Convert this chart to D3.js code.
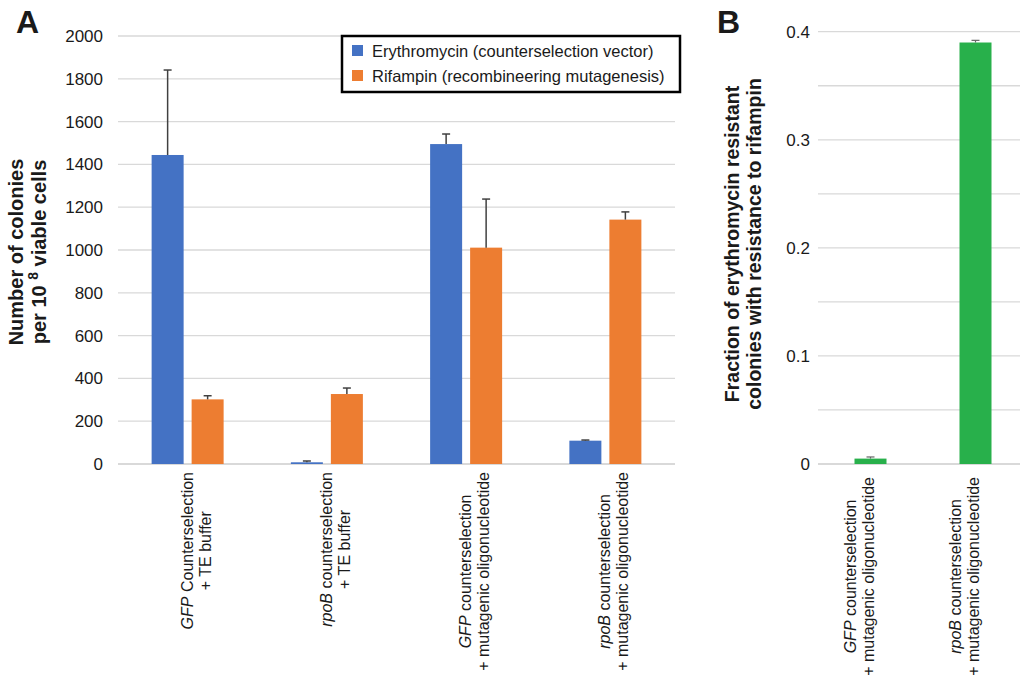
<!DOCTYPE html>
<html>
<head>
<meta charset="utf-8">
<script src="https://cdn.jsdelivr.net/npm/d3@7"></script>
<style>
    body { margin: 0; background: #fff; }
    text { font-family: "Liberation Sans", Arial, sans-serif; fill: #1a1a1a; }
</style>
</head>
<body>
<div id="chart"></div>
<script>
// Données du panneau A
const genesA = ["GFP", "rpoB", "GFP", "rpoB"];
const line1RestA = [" Counterselection", " counterselection", " counterselection", " counterselection"];
const line2A = ["+ TE buffer", "+ TE buffer", "+ mutagenic oligonucleotide", "+ mutagenic oligonucleotide"];
const seriesNames = ["Erythromycin (counterselection vector)", "Rifampin (recombineering mutagenesis)"];
const erythromycin = [1444, 8, 1495, 109];
const erythromycinErr = [397, 6, 47, 3];
const rifampin = [302, 327, 1011, 1142];
const rifampinErr = [17, 28, 227, 36];
const ticksA = [0, 200, 400, 600, 800, 1000, 1200, 1400, 1600, 1800, 2000];

// Données du panneau B
const genesB = ["GFP", "rpoB"];
const line1RestB = [" counterselection", " counterselection"];
const line2B = ["+ mutagenic oligonucleotide", "+ mutagenic oligonucleotide"];
const fraction = [0.005, 0.390];
const fractionErr = [0.0015, 0.002];
const ticksB = [0, 0.1, 0.2, 0.3, 0.4];
const gridB = [0, 0.05, 0.1, 0.15, 0.2, 0.25, 0.3, 0.35, 0.4];

const colors = ["#4472C4", "#ED7D31"];
const green = "#28B04B";
const gridColor = "#d9d9d9";
const errColor = "#404040";

const W = 1020, H = 679;

const svg = d3.select("#chart")
    .append("svg")
    .attr("width", W)
    .attr("height", H);

svg.append("rect").attr("width", W).attr("height", H).attr("fill", "#fff");

// ---------- Panneau A ----------
const A = { left: 118, right: 675, top: 36, bottom: 464 };

const yA = d3.scaleLinear().domain([0, 2000]).range([A.bottom, A.top]);
const x0 = d3.scaleBand().domain(d3.range(4)).range([A.left, A.right]).padding(0);
const x1 = d3.scaleBand()
    .domain([0, 1])
    .range([(x0.bandwidth() - 72) / 2, (x0.bandwidth() + 72) / 2])
    .paddingInner(0.2);

const gA = svg.append("g");

// Quadrillage
gA.selectAll("line.grid")
    .data(ticksA)
    .enter()
    .append("line")
    .attr("x1", A.left)
    .attr("x2", A.right)
    .attr("y1", d => yA(d))
    .attr("y2", d => yA(d))
    .attr("stroke", gridColor)
    .attr("stroke-width", d => d === 0 ? 2 : 1.3);

// Axe Y
const yAxisA = gA.append("g")
    .attr("transform", `translate(${A.left - 15}, 0)`)
    .call(d3.axisLeft(yA).tickValues(ticksA).tickFormat(d3.format("d")).tickSize(0).tickPadding(0));
yAxisA.select(".domain").remove();
yAxisA.selectAll("text")
    .style("font-size", "17px")
    .style("font-family", "Liberation Sans, Arial, sans-serif")
    .attr("fill", "#1a1a1a");

// Barres
const seriesA = [erythromycin, rifampin];
const errA = [erythromycinErr, rifampinErr];
seriesA.forEach((vals, s) => {
    gA.selectAll(`rect.s${s}`)
        .data(vals)
        .enter()
        .append("rect")
        .attr("x", (d, i) => x0(i) + x1(s))
        .attr("y", d => yA(d))
        .attr("width", x1.bandwidth())
        .attr("height", d => A.bottom - yA(d))
        .attr("fill", colors[s]);

    // Barres d'erreur (positives uniquement)
    vals.forEach((d, i) => {
        const cx = x0(i) + x1(s) + x1.bandwidth() / 2;
        const top = yA(d + errA[s][i]);
        gA.append("line")
            .attr("x1", cx).attr("x2", cx)
            .attr("y1", yA(d)).attr("y2", top)
            .attr("stroke", errColor).attr("stroke-width", 1.5);
        gA.append("line")
            .attr("x1", cx - 4).attr("x2", cx + 4)
            .attr("y1", top).attr("y2", top)
            .attr("stroke", errColor).attr("stroke-width", 1.5);
    });
});

// Étiquettes de catégories (pivotées)
function catLabels(g, genes, rest, line2, xCenter, axisY, pad, b1, b2) {
    genes.forEach((gene, i) => {
        const lab = g.append("g");
        const t1 = lab.append("text")
            .attr("text-anchor", "middle")
            .attr("y", b1)
            .style("font-size", "16px");
        t1.append("tspan").attr("font-style", "italic").text(gene);
        t1.append("tspan").text(rest[i]);
        const t2 = lab.append("text")
            .attr("text-anchor", "middle")
            .attr("y", b2)
            .style("font-size", "16px")
            .text(line2[i]);
        const maxLen = Math.max(t1.node().getComputedTextLength(), t2.node().getComputedTextLength());
        lab.attr("transform", `translate(${xCenter(i)}, ${axisY + pad + maxLen / 2}) rotate(-90)`);
    });
}

catLabels(gA, genesA, line1RestA, line2A, i => x0(i) + x0.bandwidth() / 2, A.bottom, 8, 5, 23);

// Titre de l'axe Y
const titleA = gA.append("g").attr("transform", "translate(0, 252) rotate(-90)");
titleA.append("text")
    .attr("text-anchor", "middle")
    .attr("y", 23)
    .style("font-size", "20px")
    .style("font-weight", "bold")
    .text("Number of colonies");
const t2A = titleA.append("text")
    .attr("text-anchor", "middle")
    .attr("y", 46)
    .style("font-size", "20px")
    .style("font-weight", "bold");
t2A.append("tspan").text("per 10 ");
t2A.append("tspan").attr("dy", -8).style("font-size", "14px").text("8");
t2A.append("tspan").attr("dy", 8).text(" viable cells");

// Légende
const legend = gA.append("g");
legend.append("rect")
    .attr("x", 342).attr("y", 36)
    .attr("width", 338).attr("height", 56)
    .attr("fill", "#fff")
    .attr("stroke", "#000")
    .attr("stroke-width", 2.5);
seriesNames.forEach((name, s) => {
    legend.append("rect")
        .attr("x", 352).attr("y", 45 + s * 25)
        .attr("width", 11).attr("height", 11)
        .attr("fill", colors[s]);
    legend.append("text")
        .attr("x", 372).attr("y", 57 + s * 25)
        .style("font-size", "16.5px")
        .text(name);
});

// Lettre du panneau
svg.append("text")
    .attr("x", 16).attr("y", 33)
    .style("font-size", "32px")
    .style("font-weight", "bold")
    .text("A");

// ---------- Panneau B ----------
const B = { left: 818, top: 31.7, bottom: 464 };
const stepB = 105;

const yB = d3.scaleLinear().domain([0, 0.4]).range([B.bottom, B.top]);
const xB = d3.scaleBand().domain(d3.range(2)).range([B.left, B.left + 2 * stepB]).padding(0);
const barW = 32;

const gB = svg.append("g");

gB.selectAll("line.grid")
    .data(gridB)
    .enter()
    .append("line")
    .attr("x1", B.left)
    .attr("x2", W)
    .attr("y1", d => yB(d))
    .attr("y2", d => yB(d))
    .attr("stroke", gridColor)
    .attr("stroke-width", d => d === 0 ? 2 : 1.3);

const yAxisB = gB.append("g")
    .attr("transform", `translate(${B.left - 8}, 0)`)
    .call(d3.axisLeft(yB).tickValues(ticksB).tickFormat(d => d === 0 ? "0" : d3.format(".1f")(d)).tickSize(0).tickPadding(0));
yAxisB.select(".domain").remove();
yAxisB.selectAll("text")
    .style("font-size", "17px")
    .style("font-family", "Liberation Sans, Arial, sans-serif")
    .attr("fill", "#1a1a1a");

gB.selectAll("rect.frac")
    .data(fraction)
    .enter()
    .append("rect")
    .attr("x", (d, i) => xB(i) + (xB.bandwidth() - barW) / 2)
    .attr("y", d => yB(d))
    .attr("width", barW)
    .attr("height", d => B.bottom - yB(d))
    .attr("fill", green);

fraction.forEach((d, i) => {
    const cx = xB(i) + xB.bandwidth() / 2;
    const top = yB(d + fractionErr[i]);
    gB.append("line")
        .attr("x1", cx).attr("x2", cx)
        .attr("y1", yB(d)).attr("y2", top)
        .attr("stroke", "#666").attr("stroke-width", 1.2);
    gB.append("line")
        .attr("x1", cx - 4).attr("x2", cx + 4)
        .attr("y1", top).attr("y2", top)
        .attr("stroke", "#666").attr("stroke-width", 1.2);
});

catLabels(gB, genesB, line1RestB, line2B, i => xB(i) + xB.bandwidth() / 2, B.bottom, 13, -15, 3);

const titleB = gB.append("g").attr("transform", "translate(0, 244) rotate(-90)");
titleB.append("text")
    .attr("text-anchor", "middle")
    .attr("y", 739)
    .style("font-size", "19.5px")
    .style("font-weight", "bold")
    .text("Fraction of erythromycin resistant");
titleB.append("text")
    .attr("text-anchor", "middle")
    .attr("y", 761)
    .style("font-size", "19.5px")
    .style("font-weight", "bold")
    .text("colonies with resistance to rifampin");

svg.append("text")
    .attr("x", 717).attr("y", 33)
    .style("font-size", "32px")
    .style("font-weight", "bold")
    .text("B");
</script>
</body>
</html>
